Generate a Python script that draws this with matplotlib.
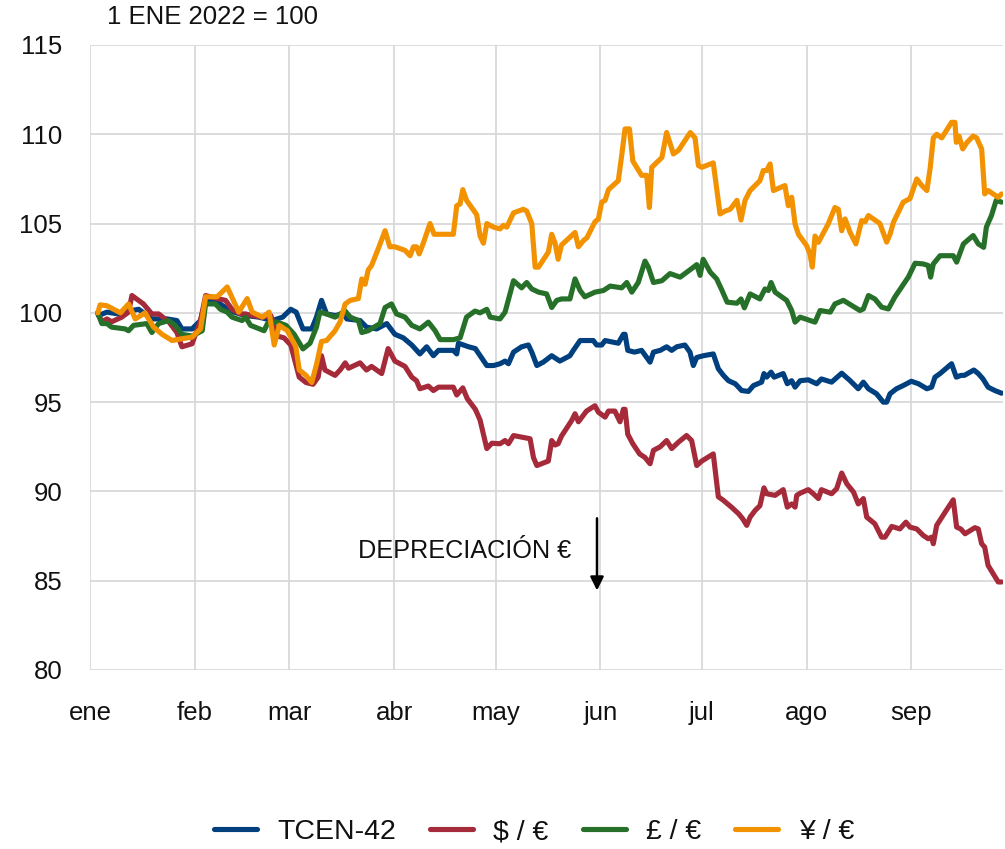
import matplotlib
matplotlib.use("Agg")
import matplotlib.pyplot as plt
import pandas as pd

# days since 1 Jan 2022, index values (1 ENE 2022 = 100)
tcen_days = [2.3, 2.5, 5, 8.4, 11.4, 14.4, 18.3, 22.8, 25.7, 27.2, 30.2, 32.7, 34.2, 37.6, 40.1, 42.6, 46, 50, 54, 57, 59.4, 61, 63,
             65.6, 67, 68.5, 70, 72.5, 75, 76, 79.9, 81.8, 84.8, 87.8, 90.2, 92.7, 95.2, 97.6, 99.6, 101.6, 103.1, 107.5, 108.5, 109, 112, 114, 117.4, 119.4,
             121.3, 122.8, 123.8, 125.3, 127.7, 129.7, 130.7, 132.2, 134.1, 136.6, 139, 142, 143, 145, 147, 148.9, 149.9, 151.4, 152.4, 156.3, 157.8, 158.3,
             159.1, 161.1, 163.2, 165.7, 166.7, 168.7, 170.6, 172.1, 173.6, 176, 177.5, 178.5, 179.5, 181.5,
             184.4, 185.9, 187.4, 188.9, 190.9, 192.8, 194.8, 196.3, 198.7, 199.4, 200.2, 201.5, 202.4, 205.1, 206.3, 207.6, 208.6, 210.1, 212.5, 215,
             216.4, 219.4, 222.4, 224.9, 227.3, 228.8, 230.3, 232.7, 234.7, 235.7, 236.7, 238.6, 240.6, 243, 245.1, 247.6, 249, 250, 251.5, 254.9,
             256.3, 257.7, 258.7, 261.5, 262.8, 264.2, 265.7, 267.7, 269.7]
tcen_vals = [100.0, 99.85, 100.04, 99.94, 100.1, 100.2, 99.66, 99.66, 99.57, 99.1, 99.1, 99.57, 100.7, 100.6, 100.3, 100.04, 99.85, 99.76, 99.57, 99.76, 100.2, 100.04, 99.1,
             99.1, 99.76, 100.7, 99.94, 99.85, 99.94, 99.66, 99.57, 99.2, 99.1, 99.4, 98.8, 98.6, 98.2, 97.7, 98.1, 97.6, 97.9, 97.9, 97.7, 98.3, 98.1, 98.0, 97.05, 97.05,
             97.15, 97.3, 97.15, 97.8, 98.1, 98.2, 97.8, 97.05, 97.24, 97.6, 97.3, 97.6, 97.9, 98.45, 98.45, 98.45, 98.2, 98.2, 98.45, 98.3, 98.8, 98.8,
             97.9, 97.8, 97.9, 97.24, 97.8, 97.9, 98.1, 97.9, 98.1, 98.2, 97.8, 97.05, 97.5, 97.6,
             97.7, 96.87, 96.5, 96.2, 96.03, 95.65, 95.6, 95.93, 96.12, 96.6, 96.4, 96.68, 96.4, 96.6, 96.03, 96.2, 95.84, 96.2, 96.25, 96.03,
             96.3, 96.12, 96.62, 96.2, 95.75, 96.12, 95.75, 95.47, 95.0, 95.0, 95.47, 95.75, 95.93, 96.17, 96.03, 95.75, 95.84, 96.4, 96.6, 97.15,
             96.4, 96.5, 96.5, 96.8, 96.6, 96.3, 95.84, 95.65, 95.5]

usd_days = [2.3, 3.5, 5, 6.4, 9.4, 11.4, 12.4, 15.8, 18.3, 20.3, 23.3, 25.7, 27.2, 30.2, 32.7, 34.2, 37.6, 40.1, 42, 44.6, 46, 48, 51, 53.5, 55.4, 57.4, 59.4, 61.9, 63.9,
            66, 67.5, 68.5, 69.5, 72.5, 74, 75.5, 76.5, 79.9, 81.8, 83.3, 86.3, 88.2, 90.2, 93.2, 95.2, 96.6, 97.6, 100.1, 101.6, 103.1, 107.5, 108.5, 110.3, 111.6,
            114, 115.4, 117.4, 118.9, 121.3, 122.8, 123.8, 125.3, 130.2, 131.2, 132.2, 135.6, 136.6, 137.6, 138.5, 139.5, 142.5, 143.5, 144.5, 146.9, 149.4,
            150.4, 152.4, 153.4, 155.3, 156.8, 157.8, 158.3, 159.1, 160.6, 162.6, 164.2, 165.7, 166.7, 168.7, 170.6, 172.1, 174.1, 176.5, 178, 179.5, 181,
            184.4, 185.9, 187.4, 189.9, 191.9, 193.1, 194.3, 195.3, 196.8, 198.2, 199.4, 200.2, 202.7, 205.1, 206.3, 207.6, 208.6, 209.1, 210.1, 212.5, 214,
            215.5, 216.4, 219.4, 220.9, 222.4, 223.9, 225.9, 227.3, 228.8, 229.8, 232.2, 234.2, 235.2, 237.2, 239.6, 241.4, 242.6, 244.6, 246.5, 248, 249,
            249.5, 250.5, 253, 255.4, 256.4, 257.6, 258.9, 261.8, 262.8, 263.8, 264.7, 265.7, 267.2, 268.7, 269.7]
usd_vals = [100.0, 99.5, 99.66, 99.5, 99.76, 100.04, 100.97, 100.5, 99.94, 99.94, 99.5, 98.9, 98.1, 98.27, 99.57, 100.97, 100.8, 100.7, 100.2, 99.94, 99.94, 99.85, 99.76, 99.85, 98.7, 98.6, 98.2, 96.4, 96.1,
            96.0, 96.4, 97.6, 96.8, 96.5, 96.8, 97.2, 96.9, 97.2, 96.8, 97.0, 96.6, 98.0, 97.3, 97.0, 96.4, 96.2, 95.75, 95.9, 95.65, 95.84, 95.84, 95.4, 95.8, 95.2,
            94.6, 94.0, 92.4, 92.7, 92.67, 92.85, 92.67, 93.13, 92.95, 91.9, 91.45, 91.7, 92.85, 92.6, 92.67, 93.1, 93.97, 94.35, 93.9, 94.5, 94.8,
            94.44, 94.16, 94.5, 94.5, 93.9, 94.6, 94.6, 93.2, 92.67, 92.1, 91.9, 91.55, 92.3, 92.5, 92.85, 92.4, 92.76, 93.13, 92.85, 91.45, 91.7,
            92.1, 89.7, 89.5, 89.1, 88.75, 88.47, 88.1, 88.56, 88.94, 89.2, 90.2, 89.87, 89.78, 90.1, 89.12, 89.3, 89.12, 89.78, 89.9, 90.1, 89.87,
            89.6, 90.1, 89.87, 90.15, 91.03, 90.43, 89.96, 89.3, 89.6, 88.56, 88.19, 87.44, 87.44, 88.04, 87.9, 88.28, 88.0, 87.9, 87.54, 87.35, 87.44,
            87.07, 88.1, 88.84, 89.53, 88.0, 87.9, 87.63, 87.97, 87.9, 87.07, 86.88, 85.86, 85.4, 84.93, 84.93]

gbp_days = [2.3, 3.5, 5, 6.4, 10.4, 11.4, 12.9, 16.8, 18.3, 20.3, 23.3, 25.2, 27.2, 30.2, 33.2, 34.2, 37.1, 38.6, 40.6, 42, 45, 46, 47.5, 51.5, 52.5, 55, 58, 60.4, 63,
            65.1, 67, 68, 70, 72.5, 74, 75.5, 77, 79.4, 80.4, 82.3, 85.8, 87.3, 89.2, 90.7, 93.2, 95.2, 97.6, 100.1, 102.1, 103.6, 107.5, 109.5, 111.4, 113.9,
            115.4, 117.4, 118.4, 121.3, 122.8, 125.3, 127.7, 129.2, 130.7, 132.7, 135.1, 136.6, 138.1, 139.5, 142, 143.5, 145, 146.4, 149.4, 151.9, 153.9,
            157.3, 158.8, 160.3, 162.2, 164.2, 165.2, 166.7, 169.2, 171.6, 174.6, 178.5, 179.5, 180.5, 181.4,
            183.5, 185.4, 187, 188.5, 191.4, 192.6, 193.6, 195.3, 198.2, 199.7, 200.7, 201.5, 202.7, 206.1, 207.6, 208.6, 210.1, 214.5, 216, 219, 220.4,
            222.9, 225.4, 227.8, 228.8, 230.3, 232.2, 234.2, 236.2, 238.1, 240.1, 242.1, 244.1, 246.5, 248, 248.7, 249.5, 251.5, 255.4, 256.4, 258.4,
            261.3, 262.8, 264.4, 265.2, 266.7, 268.1, 269.7]
gbp_vals = [100.0, 99.4, 99.4, 99.2, 99.1, 99.0, 99.3, 99.4, 98.9, 99.4, 99.57, 99.3, 98.8, 98.7, 99.0, 100.5, 100.5, 100.2, 100.04, 99.76, 99.57, 99.76, 99.3, 99.0, 99.4, 99.5, 99.3, 98.8, 97.98,
            98.3, 99.2, 100.04, 99.94, 99.76, 99.94, 100.1, 99.76, 99.57, 98.9, 99.0, 99.4, 100.3, 100.5, 99.94, 99.76, 99.3, 99.1, 99.48, 99.0, 98.5, 98.5, 98.6, 99.76, 100.1,
            100.0, 100.2, 99.76, 99.66, 100.04, 101.8, 101.4, 101.7, 101.34, 101.16, 101.06, 100.3, 100.7, 100.78, 100.78, 101.9, 101.25, 100.9, 101.16, 101.25, 101.5,
            101.4, 101.7, 101.16, 101.7, 102.9, 102.55, 101.7, 101.8, 102.2, 102.0, 102.55, 102.7, 102.1, 103.0,
            102.28, 101.9, 101.25, 100.6, 100.54, 100.78, 100.28, 101.06, 100.78, 101.34, 101.25, 101.7, 101.16, 100.7, 100.13, 99.48, 99.76, 99.48, 100.13, 100.04, 100.5,
            100.7, 100.41, 100.13, 100.22, 100.97, 100.78, 100.32, 100.22, 100.88, 101.44, 102.0, 102.78, 102.74, 102.65, 102.0, 102.74, 103.2, 103.2, 102.84, 103.86,
            104.33, 103.86, 103.67, 104.8, 105.45, 106.3, 106.2]

jpy_days = [2.3, 3, 5, 9, 11.4, 13.4, 16.3, 18.8, 21.3, 24.3, 27.2, 30.2, 32.7, 34.2, 37.6, 40.6, 44, 46.5, 48, 51, 53, 54.5, 56, 58.4, 60.9, 61.9, 63.9,
            65.6, 67, 68.5, 70, 72.5, 74, 75.5, 77, 79.4, 80.4, 81.4, 82.3, 83.3, 85.3, 87.3, 88.7, 90.2, 93.2, 94.7, 95.7, 96.6, 97.4, 98.6, 100.6, 101.8, 107.5,
            108.5, 109.5, 110.3, 111.4, 112.9, 114.4, 115.4, 116.4, 117.4, 119.4, 121.3,
            122.3, 123.3, 125.3, 128.2, 129.2, 130.7, 131.7, 132.7, 135.6, 136.6, 137.6, 138.5, 139.5, 143.5, 144.5, 146, 147, 149.4, 150.4, 151.4, 152.4,
            153.4, 156.3, 157.3, 158.3, 159.6, 160.6, 163.2, 164.7, 165.5, 166.2, 169.2, 170.6, 172.6, 174.1, 177.6, 179, 180, 181,
            184.4, 186.4, 187.9, 189.4, 191.4, 192.6, 193.8, 195.3, 198.2, 199.2, 200.2, 201.2, 202.2, 205.6, 206.6, 207.6, 208.6, 209.6, 212, 213, 213.7,
            214.5, 215.5, 218.4, 220.4, 221.4, 222.4, 223.4, 224.9, 226.6, 228.3, 229.3, 230.3, 233.7, 235.7, 236.7, 237.7, 240.6, 242.6, 244.6, 246.1,
            247.6, 248.6, 249.5, 250.5, 252, 254.9, 255.9, 256.3, 257.1, 258.2, 259.5, 261.3, 262.3, 263.8, 264.7, 265.7, 268.7, 269.7]
jpy_vals = [100.0, 100.45, 100.4, 100.0, 100.5, 99.66, 100.0, 99.2, 98.8, 98.45, 98.55, 98.64, 99.1, 100.9, 100.9, 101.45, 100.04, 100.8, 100.04, 99.76, 100.04, 98.2, 99.3, 99.0, 98.1, 96.8, 96.5,
            96.1, 97.1, 98.4, 98.45, 99.0, 99.5, 100.5, 100.7, 100.8, 101.9, 101.6, 102.4, 102.65, 103.6, 104.6, 103.7, 103.7, 103.5, 103.2, 103.7, 103.7, 103.3, 103.9, 105.0, 104.4, 104.4,
            106.0, 106.1, 106.9, 106.3, 105.9, 105.5, 104.3, 103.9, 105.0, 104.8, 104.7,
            104.9, 104.8, 105.6, 105.8, 105.7, 105.0, 102.56, 102.56, 103.4, 104.4, 103.9, 103.0, 103.8, 104.5, 103.7, 104.05, 104.2, 105.1, 105.26, 106.2, 106.3,
            106.9, 107.4, 108.8, 110.3, 110.3, 108.5, 107.7, 107.7, 105.9, 108.15, 108.7, 110.1, 108.9, 109.1, 110.1, 109.8, 108.25, 108.15,
            108.4, 105.54, 105.7, 105.8, 106.3, 105.2, 106.3, 106.85, 107.4, 107.97, 107.97, 108.34, 106.85, 107.13, 106.0, 106.47, 104.97, 104.4, 103.77, 103.3, 102.56,
            104.3, 103.95, 104.98, 105.9, 105.8, 104.6, 105.26, 104.5, 103.86, 105.17, 105.1, 105.45, 105.0, 103.96, 104.4, 105.07, 106.2, 106.4, 107.5, 107.13,
            106.85, 108.15, 109.8, 110.0, 109.8, 110.67, 110.67, 109.55, 109.9, 109.18, 109.55, 109.9, 109.8, 109.18, 106.66, 106.85, 106.47, 106.66]

series_labels = ["TCEN-42", "$ / €", "£ / €", "¥ / €"]
series_colors = ["#00407F", "#A52A3A", "#26702A", "#F39200"]
month_labels = ["ene", "feb", "mar", "abr", "may", "jun", "jul", "ago", "sep"]
y_ticks = [80, 85, 90, 95, 100, 105, 110, 115]

base = pd.Timestamp("2022-01-01")
def to_dates(days):
    return base + pd.to_timedelta(days, unit="D")

plt.rcParams['font.family'] = ['Liberation Sans', 'DejaVu Sans']
TXT = "#111111"

fig = plt.figure(figsize=(10.05, 8.49), dpi=100)
ax = fig.add_axes([90/1005, 1-670/849, 912.6/1005, 625/849])

all_days = [tcen_days, usd_days, gbp_days, jpy_days]
all_vals = [tcen_vals, usd_vals, gbp_vals, jpy_vals]
for d, v, lab, col in zip(all_days, all_vals, series_labels, series_colors):
    ax.plot(to_dates(d), v, color=col, lw=3.7, label=lab,
            solid_joinstyle='round', solid_capstyle='round', zorder=3)

ax.set_ylim(80, 115)
ax.set_yticks(y_ticks)
ax.set_xlim(base, base + pd.Timedelta(days=270))
month_starts = pd.date_range("2022-01-01", periods=9, freq="MS")
ax.set_xticks(month_starts)
ax.set_xticklabels(month_labels)
ax.grid(True, color="#d9d9d9", lw=1.3, zorder=0)
for s in ax.spines.values():
    s.set_visible(False)
ax.tick_params(axis='both', length=0, labelsize=18.5, colors=TXT)
ax.tick_params(axis='x', pad=22)
ax.tick_params(axis='y', pad=20)

fig.text(107/1005, 1-17/849, "1 ENE 2022 = 100", fontsize=18.5, color=TXT, va="center", ha="left")

ax.annotate("", xy=(base + pd.Timedelta(days=150), 84.3), xytext=(base + pd.Timedelta(days=150), 88.65),
            arrowprops=dict(arrowstyle="-|>", color="black", lw=1.8, mutation_scale=20), zorder=5)
ax.text(base + pd.Timedelta(days=79.3), 86.66, "DEPRECIACIÓN €", fontsize=18.2, color=TXT,
        va="center", ha="left")

leg = fig.legend(loc="center", bbox_to_anchor=(534/1005, 1-832/849), ncol=4, frameon=False,
                 fontsize=20.5, handlelength=1.5, handletextpad=0.72, columnspacing=1.2)
for line in leg.get_lines():
    line.set_linewidth(3.7)
    line.set_solid_capstyle('round')
for t in leg.get_texts():
    t.set_color(TXT)

fig.savefig("out.png", dpi=100)
